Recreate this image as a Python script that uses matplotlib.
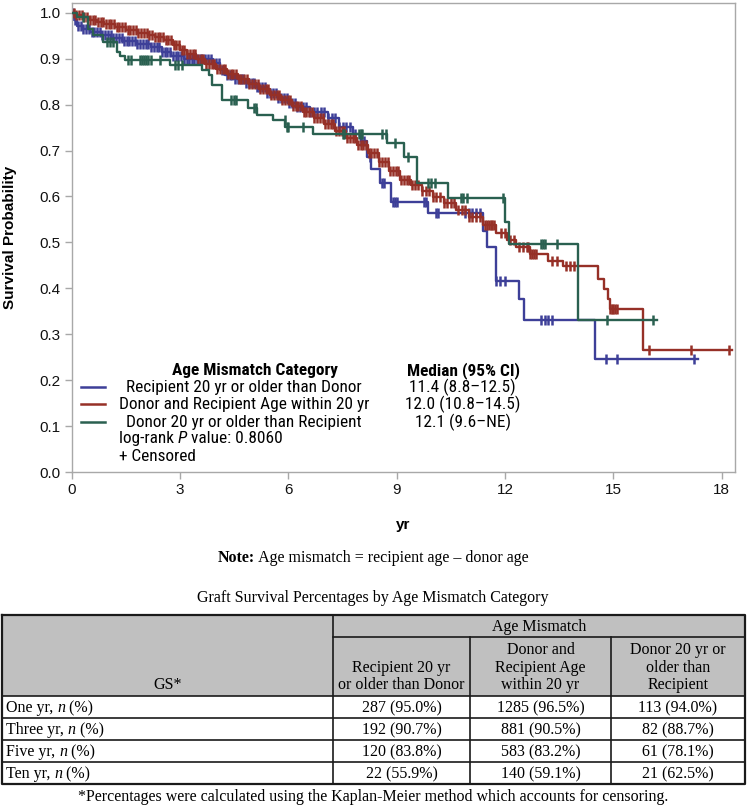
import numpy as np
import matplotlib
matplotlib.use("Agg")
import matplotlib.pyplot as plt
from matplotlib import font_manager
from matplotlib.patches import Rectangle

# ---------------------------------------------------------
# Daten
# ---------------------------------------------------------
groups = ["Recipient 20 yr or older than Donor",
          "Donor and Recipient Age within 20 yr",
          "Donor 20 yr or older than Recipient"]
medians = ["11.4 (8.8\u201312.5)", "12.0 (10.8\u201314.5)", "12.1 (9.6\u2013NE)"]
logrank_p = "0.8060"

# Recipient 20 yr or older than Donor (blau)
blue_t = [0, 0.05, 0.15, 0.3, 0.5, 0.8, 1.1, 1.4, 1.8, 2.2,
          2.5, 2.75, 3.1, 3.9, 4.1, 4.25, 4.5, 4.8, 5.1, 5.4,
          5.7, 6.0, 6.25, 6.6, 7.1, 7.4, 7.8, 8.0, 8.17, 8.3,
          8.54, 8.85, 9.87, 11.4, 11.5, 11.74, 12.4, 12.53, 14.48]
blue_s = [1.0, 0.985, 0.972, 0.965, 0.958, 0.952, 0.946, 0.938, 0.932, 0.925,
          0.915, 0.907, 0.899, 0.89, 0.875, 0.864, 0.856, 0.848, 0.838, 0.826,
          0.814, 0.803, 0.795, 0.783, 0.77, 0.752, 0.735, 0.72, 0.687, 0.66,
          0.629, 0.589, 0.563, 0.525, 0.49, 0.417, 0.377, 0.332, 0.247]
blue_end = 17.35
blue_cens = [0.04, 0.1, 0.18, 0.25, 0.32, 0.4, 0.48, 0.55, 0.62, 0.7, 0.78, 0.85,
             0.92, 1.0, 1.08, 1.15, 1.22, 1.3, 1.38, 1.45, 1.52, 1.6, 1.68, 1.75,
             1.82, 1.9, 1.98, 2.05, 2.12, 2.2, 2.28, 2.35, 2.42, 2.5, 2.58, 2.65,
             2.72, 2.8, 2.88, 2.95, 3.02, 3.1, 3.18, 3.25, 3.32, 3.4, 3.48, 3.55,
             3.62, 3.7, 3.78, 3.85, 3.92, 4.0, 4.08, 4.15, 4.22, 4.3, 4.38, 4.45,
             4.52, 4.6, 4.68, 4.75, 4.82, 4.9, 4.98, 5.05, 5.12, 5.2, 5.28, 5.35,
             5.42, 5.5, 5.58, 5.65, 5.72, 5.8, 5.88, 5.95, 6.02, 6.1, 6.18, 6.25,
             6.32, 6.4, 6.5, 6.6, 6.7, 6.8, 6.9, 7.0, 7.1, 7.2, 7.3, 7.4, 7.5,
             7.6, 7.7, 7.85, 8.0, 8.1, 8.25, 8.6, 8.65, 8.9, 8.95, 9.0, 9.75, 9.8,
             10.1, 10.15, 10.9, 11.0, 11.1, 11.2, 11.3, 11.75, 11.85, 12.0, 13.0,
             13.1, 13.2, 13.3, 14.79, 15.11, 17.24]

# Donor and Recipient Age within 20 yr (rot)
red_t = [0, 0.1, 0.3, 0.5, 0.7, 0.9, 1.2, 1.5, 1.8, 2.1,
         2.3, 2.55, 2.8, 3.0, 3.2, 3.45, 3.7, 4.0, 4.3, 4.6,
         4.9, 5.2, 5.5, 5.8, 6.1, 6.4, 6.7, 7.0, 7.3, 7.6,
         7.9, 8.2, 8.5, 8.8, 9.1, 9.4, 9.7, 10.0, 10.3, 10.65,
         11.0, 11.4, 11.75, 12.05, 12.3, 12.7, 13.2, 13.6, 14.57, 14.74,
         14.85, 14.9, 15.83]
red_s = [1.0, 0.995, 0.99, 0.985, 0.98, 0.975, 0.968, 0.962, 0.957, 0.952,
         0.947, 0.94, 0.93, 0.92, 0.91, 0.9, 0.888, 0.877, 0.866, 0.856,
         0.845, 0.833, 0.821, 0.81, 0.797, 0.784, 0.77, 0.757, 0.742, 0.728,
         0.713, 0.694, 0.676, 0.656, 0.636, 0.624, 0.611, 0.599, 0.585, 0.57,
         0.555, 0.538, 0.52, 0.505, 0.49, 0.475, 0.46, 0.448, 0.421, 0.399,
         0.377, 0.356, 0.266]
red_end = 18.3
red_cens = [0.05, 0.12, 0.2, 0.28, 0.35, 0.42, 0.5, 0.58, 0.65, 0.72, 0.8, 0.88,
            0.95, 1.02, 1.1, 1.18, 1.25, 1.32, 1.4, 1.48, 1.55, 1.62, 1.7, 1.78,
            1.85, 1.92, 2.0, 2.08, 2.15, 2.22, 2.3, 2.38, 2.45, 2.52, 2.6, 2.68,
            2.75, 2.82, 2.9, 2.98, 3.05, 3.12, 3.2, 3.28, 3.35, 3.42, 3.5, 3.58,
            3.65, 3.72, 3.8, 3.88, 3.95, 4.02, 4.1, 4.18, 4.25, 4.32, 4.4, 4.48,
            4.55, 4.62, 4.7, 4.78, 4.85, 4.92, 5.0, 5.08, 5.15, 5.22, 5.3, 5.38,
            5.45, 5.52, 5.6, 5.68, 5.75, 5.82, 5.9, 5.98, 6.05, 6.12, 6.2, 6.28,
            6.35, 6.42, 6.5, 6.58, 6.65, 6.72, 6.8, 6.88, 6.95, 7.02, 7.1, 7.18,
            7.25, 7.32, 7.4, 7.48, 7.55, 7.62, 7.7, 7.78, 7.85, 7.92, 8.0, 8.08,
            8.15, 8.22, 8.3, 8.38, 8.45, 8.52, 8.6, 8.68, 8.75, 8.82, 8.9, 8.98,
            9.05, 9.12, 9.2, 9.28, 9.35, 9.42, 9.5, 9.6, 9.7, 9.8, 9.9, 10.0,
            10.1, 10.2, 10.3, 10.4, 10.5, 10.6, 10.7, 10.8, 10.9, 11.0, 11.1,
            11.2, 11.3, 11.45, 11.5, 11.55, 11.6, 11.65, 11.7, 11.9, 12.0, 12.15,
            12.25, 12.4, 12.5, 12.6, 12.65, 12.7, 12.75, 12.8, 12.85, 13.3, 13.45,
            13.7, 13.8, 13.9, 14.9, 14.95, 15.0, 15.05, 15.1, 16.0, 17.15, 18.2]

# Donor 20 yr or older than Recipient (grün)
green_t = [0, 0.15, 0.45, 0.6, 0.875, 1.25, 1.35, 1.48, 2.72, 3.6,
           3.8, 3.88, 4.16, 4.89, 5.12, 5.58, 5.91, 6.69, 8.72, 9.2,
           9.56, 10.43, 12.0, 12.12, 14.03]
green_s = [1.0, 0.99, 0.965, 0.951, 0.937, 0.915, 0.905, 0.897, 0.886, 0.876,
           0.864, 0.843, 0.81, 0.792, 0.777, 0.766, 0.752, 0.737, 0.716, 0.687,
           0.629, 0.596, 0.545, 0.496, 0.331]
green_end = 16.2
green_cens = [0.3, 0.97, 1.05, 1.15, 1.55, 1.65, 1.9, 1.95, 2.0, 2.05, 2.1, 2.2,
              2.45, 2.85, 2.95, 3.05, 4.4, 4.5, 4.55, 5.05, 5.1, 5.9, 5.95, 6.0,
              6.4, 7.5, 7.55, 7.95, 8.0, 8.05, 8.6, 8.7, 8.96, 9.3, 9.87, 9.95,
              10.05, 10.78, 10.85, 10.95, 11.95, 13.0, 13.05, 13.1, 13.43, 14.83,
              16.1]

# Tabelle
col_headers = ["Recipient 20 yr\nor older than Donor",
               "Donor and\nRecipient Age\nwithin 20 yr",
               "Donor 20 yr or\nolder than\nRecipient"]
row_names = ["One", "Three", "Five", "Ten"]
n_vals = [[287, 1285, 113], [192, 881, 82], [120, 583, 61], [22, 140, 21]]
pct_vals = [[95.0, 96.5, 94.0], [90.7, 90.5, 88.7], [83.8, 83.2, 78.1], [55.9, 59.1, 62.5]]

# ---------------------------------------------------------
# Schriften / Farben
# ---------------------------------------------------------
names = {f.name for f in font_manager.fontManager.ttflist}
narrow, leg_size = "Liberation Sans", 10.8
for cand, size in [("Liberation Sans Narrow", 12.5), ("Roboto Condensed", 12.4),
                   ("Arial Narrow", 12.5)]:
    if cand in names:
        narrow, leg_size = cand, size
        break
sans = "Liberation Sans"
serif = "Liberation Serif"
plt.rcParams["font.family"] = [sans, "DejaVu Sans"]

colors = ["#3d3f98", "#963027", "#2a6050"]
frame_col = "#a8a8a8"

W, H = 747, 806
fig = plt.figure(figsize=(W / 100, H / 100), dpi=100)

# Plotbereich in Pixeln
left, right, top, bottom = 71.7, 735, 2.7, 472
ax = fig.add_axes([left / W, 1 - bottom / H, (right - left) / W, (bottom - top) / H])

# ---------------------------------------------------------
# Kaplan-Meier Kurven
# ---------------------------------------------------------
series = [(blue_t, blue_s, blue_end, blue_cens),
          (red_t, red_s, red_end, red_cens),
          (green_t, green_s, green_end, green_cens)]

for i, (tt, ss, t_end, cens) in enumerate(series):
    tt = np.array(tt + [t_end])
    ss = np.array(ss + [ss[-1]])
    ax.step(tt, ss, where="post", color=colors[i], lw=1.7, zorder=2 + i)
    idx = np.searchsorted(tt, cens, side="right") - 1
    ax.plot(cens, ss[idx], ls="none", marker="|", ms=7.5, mew=1.8,
            color=colors[i], zorder=2 + i)

ax.set_xlim(0, 18.37)
ax.set_ylim(0, 1.022)
ax.set_xticks(np.arange(0, 19, 3))
ax.set_yticks(np.round(np.arange(0, 1.01, 0.1), 1))
ax.set_yticklabels([f"{v:.1f}" for v in np.arange(0, 1.01, 0.1)])
for sp in ax.spines.values():
    sp.set_color(frame_col)
    sp.set_linewidth(1.0)
ax.tick_params(direction="out", length=5, width=1, color=frame_col,
               labelsize=11, labelcolor="#111111", pad=3)

ax.set_xlabel("yr", fontsize=11, fontweight="bold")
ax.xaxis.set_label_coords(0.5, -(525 - bottom) / (bottom - top))
ax.xaxis.label.set_va("center")
ax.set_ylabel("Survival Probability", fontsize=11, fontweight="bold")
ax.yaxis.set_label_coords(-(left - 10) / (right - left), 0.5)
ax.yaxis.label.set_va("center")

# ---------------------------------------------------------
# Legende im Plot
# ---------------------------------------------------------
leg_rows = [0.185, 0.147, 0.108]
ax.text(5.09, 0.222, "Age Mismatch Category", family=narrow, size=leg_size,
        weight="bold", ha="center", va="center")
ax.text(10.85, 0.222, "Median (95% CI)", family=narrow, size=leg_size,
        weight="bold", ha="center", va="center")
for i in range(3):
    ax.plot([0.26, 0.92], [leg_rows[i]] * 2, color=colors[i], lw=1.8)
    ax.text(4.77, leg_rows[i], groups[i], family=narrow, size=leg_size,
            ha="center", va="center")
    ax.text(10.83, leg_rows[i], medians[i], family=narrow, size=leg_size,
            ha="center", va="center")

t1 = ax.text(1.3, 0.072, "log-rank ", family=narrow, size=leg_size, va="center")
t2 = ax.annotate("P", xy=(1, 0), xycoords=t1, va="bottom", family=narrow,
                 size=leg_size, style="italic")
ax.annotate(" value: " + logrank_p, xy=(1, 0), xycoords=t2, va="bottom",
            family=narrow, size=leg_size)
ax.text(1.3, 0.033, "+ Censored", family=narrow, size=leg_size, va="center")

# ---------------------------------------------------------
# Notiz + Tabelle (Pixel-Koordinaten)
# ---------------------------------------------------------
tab = fig.add_axes([0, 0, 1, 1])
tab.set_xlim(0, W)
tab.set_ylim(H, 0)
tab.axis("off")

n1 = tab.text(218, 558, "Note:", family=serif, size=11.5, weight="bold", va="center")
tab.annotate(" Age mismatch = recipient age \u2013 donor age", xy=(1, 0), xycoords=n1,
             va="bottom", family=serif, size=11.5)

tab.text(373, 598, "Graft Survival Percentages by Age Mismatch Category",
         family=serif, size=11.5, ha="center", va="center")

x0, x1, x2, x3, x4 = 1.7, 333, 470, 611, 745
y_top, y_sub, y_head = 615, 637, 696
row_h = 22
y_bot = y_head + row_h * len(row_names)

tab.add_patch(Rectangle((x0, y_top), x4 - x0, y_head - y_top,
                        facecolor="#c0c0c0", edgecolor="none"))
lc = "#1a1a1a"
# Rahmen
tab.plot([x0, x4, x4, x0, x0], [y_top, y_top, y_bot, y_bot, y_top], color=lc, lw=1.6)
tab.plot([x1, x1], [y_top, y_bot], color=lc, lw=1.2)
tab.plot([x1, x4], [y_sub, y_sub], color=lc, lw=1.2)
for xv in (x2, x3):
    tab.plot([xv, xv], [y_sub, y_bot], color=lc, lw=1.2)
for r in range(len(row_names)):
    yy = y_head + r * row_h
    tab.plot([x0, x4], [yy, yy], color=lc, lw=1.2)

tab.text((x1 + x4) / 2, (y_top + y_sub) / 2 + 1, "Age Mismatch", family=serif,
         size=11.5, ha="center", va="center")
tab.text((x0 + x1) / 2, y_head - 3, "GS*", family=serif, size=11.5,
         ha="center", va="bottom")
centers = [(x1 + x2) / 2, (x2 + x3) / 2, (x3 + x4) / 2]
for j, hdr in enumerate(col_headers):
    tab.text(centers[j], y_head - 3, hdr, family=serif, size=11.5, ha="center",
             va="bottom", linespacing=1.12, multialignment="center")

for r, name in enumerate(row_names):
    yc = y_head + r * row_h + row_h / 2 + 1
    a = tab.text(6, yc, name + " yr, ", family=serif, size=11.5, va="center")
    b = tab.annotate("n", xy=(1, 0), xycoords=a, va="bottom", family=serif,
                     size=11.5, style="italic")
    tab.annotate(" (%)", xy=(1, 0), xycoords=b, va="bottom", family=serif, size=11.5)
    for j in range(3):
        tab.text(centers[j], yc, f"{n_vals[r][j]} ({pct_vals[r][j]:.1f}%)",
                 family=serif, size=11.5, ha="center", va="center")

tab.text(373, 797, "*Percentages were calculated using the Kaplan-Meier method "
         "which accounts for censoring.", family=serif, size=11.5,
         ha="center", va="center")

fig.savefig("out.png", dpi=100)
